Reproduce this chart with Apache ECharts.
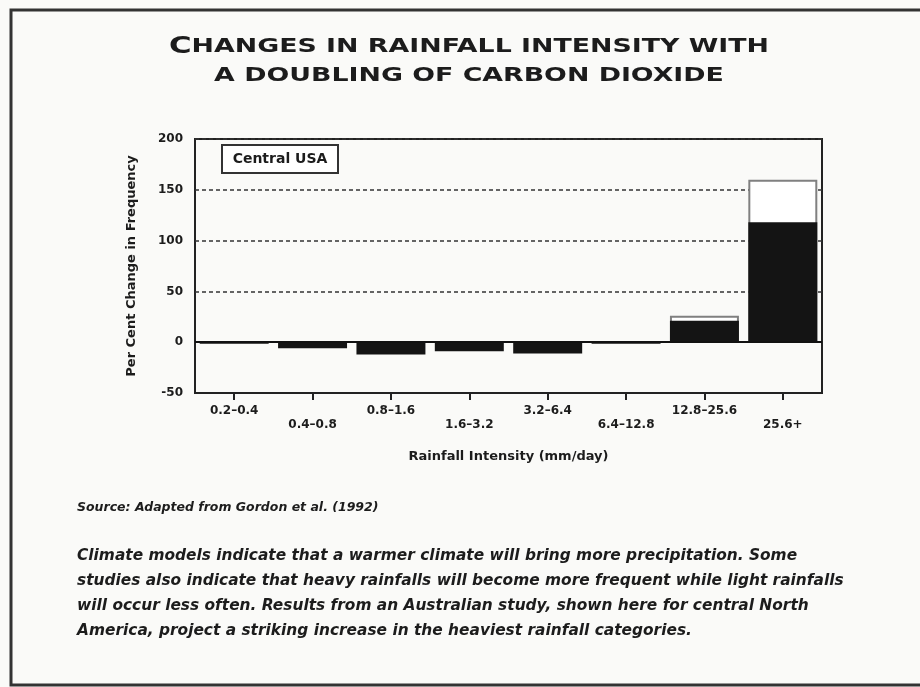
<!DOCTYPE html>
<html><head><meta charset="utf-8">
<script src="https://cdn.jsdelivr.net/npm/echarts@6/dist/echarts.min.js"></script>
<style>html,body{margin:0;padding:0;background:#fafaf8;}#c{width:920px;height:687px;}</style>
</head><body><div id="c"></div>
<script>
const categories = ['0.2–0.4','0.4–0.8','0.8–1.6','1.6–3.2','3.2–6.4','6.4–12.8','12.8–25.6','25.6+'];
const upperValues = [null, null, null, null, null, null, 26, 160];
const centralValues = [-1.5, -6, -12, -9, -11, -1.5, 21, 118];
const yTicks = { min: -50, max: 200, interval: 50 };
const titleLine1First = 'C';
const titleLine1Rest = 'HANGES IN RAINFALL INTENSITY WITH';
const titleLine2 = 'A DOUBLING OF CARBON DIOXIDE';
const legendLabel = 'Central USA';
const xName = 'Rainfall Intensity (mm/day)';
const yName = 'Per Cent Change in Frequency';
const sourceText = 'Source: Adapted from Gordon et al. (1992)';
const captionLines = [
  'Climate models indicate that a warmer climate will bring more precipitation. Some',
  'studies also indicate that heavy rainfalls will become more frequent while light rainfalls',
  'will occur less often. Results from an Australian study, shown here for central North',
  'America, project a striking increase in the heaviest rainfall categories.'
];

const ink = '#1c1c1c';
const F = '"DejaVu Sans", sans-serif';
const chart = echarts.init(document.getElementById('c'));
chart.setOption({
  backgroundColor: '#fafaf8',
  animation: false,
  title: [
    { text: sourceText, left: 77, top: 501, padding: 0,
      textStyle: { fontFamily: F, fontSize: 12.5, fontWeight: 'bold', fontStyle: 'italic', color: ink } },
    { text: captionLines.join('\n'), left: 77, top: 543, padding: 0,
      textStyle: { fontFamily: F, fontSize: 15.4, fontWeight: 'bold', fontStyle: 'italic', color: ink, lineHeight: 25 } }
  ],
  grid: { left: 195, right: 98, top: 139, bottom: 294, show: true, borderColor: '#222', borderWidth: 2, backgroundColor: 'transparent' },
  xAxis: {
    type: 'category', data: categories,
    axisLine: { show: true, onZero: false, lineStyle: { color: '#222', width: 2 } },
    axisTick: { show: true, alignWithLabel: true, interval: 0, inside: false, length: 7, lineStyle: { color: '#222', width: 2 } },
    axisLabel: {
      interval: 0, margin: 12, color: ink,
      formatter: (v, i) => (i % 2 ? '{lo|' + v + '}' : '{hi|' + v + '}'),
      rich: {
        hi: { fontFamily: F, fontSize: 12, fontWeight: 'bold', color: ink },
        lo: { fontFamily: F, fontSize: 12, fontWeight: 'bold', color: ink, padding: [14, 0, 0, 0] }
      }
    },
    name: xName, nameLocation: 'middle', nameGap: 57,
    nameTextStyle: { fontFamily: F, fontSize: 13, fontWeight: 'bold', color: ink }
  },
  yAxis: {
    type: 'value', min: yTicks.min, max: yTicks.max, interval: yTicks.interval,
    axisLine: { show: false }, axisTick: { show: false },
    axisLabel: { margin: 12, fontFamily: F, fontSize: 12, fontWeight: 'bold', color: ink },
    splitLine: { show: true, lineStyle: { color: '#333', width: 1.5, type: [4, 3] } },
    name: yName, nameLocation: 'middle', nameGap: 57, nameRotate: 90,
    nameTextStyle: { fontFamily: F, fontSize: 13, fontWeight: 'bold', color: ink }
  },
  series: [
    { name: 'upper', type: 'bar', data: upperValues, barGap: '-100%', barCategoryGap: '12%',
      itemStyle: { color: '#ffffff', borderColor: '#808080', borderWidth: 2 }, z: 2 },
    { name: legendLabel, type: 'bar', data: centralValues, barGap: '-100%', barCategoryGap: '12%',
      itemStyle: { color: '#141414' }, z: 3,
      markLine: { silent: true, symbol: 'none', label: { show: false },
        lineStyle: { color: '#111', width: 2, type: 'solid' }, data: [{ yAxis: 0 }] } }
  ],
  graphic: [
    { type: 'rect', shape: { x: 11, y: 10, width: 940, height: 675 }, style: { fill: 'none', stroke: '#333', lineWidth: 3 }, silent: true },
    { type: 'text', x: 469, y: 47, scaleX: 1.34, scaleY: 1,
      style: { text: '{a|' + titleLine1First + '}{b|' + titleLine1Rest + '}', align: 'center', verticalAlign: 'middle',
        rich: { a: { fontFamily: F, fontSize: 23, fontWeight: 'bold', fill: ink }, b: { fontFamily: F, fontSize: 20, fontWeight: 'bold', fill: ink } } } },
    { type: 'text', x: 469, y: 76, scaleX: 1.34, scaleY: 1,
      style: { text: titleLine2, align: 'center', verticalAlign: 'middle', font: 'bold 20px "DejaVu Sans", sans-serif', fill: ink } },
    { type: 'rect', shape: { x: 222, y: 145, width: 116, height: 28 }, style: { fill: '#fff', stroke: '#333', lineWidth: 2 }, z: 10 },
    { type: 'text', x: 280, y: 159, z: 11,
      style: { text: legendLabel, align: 'center', verticalAlign: 'middle', font: 'bold 14px "DejaVu Sans", sans-serif', fill: ink } }
  ]
});
</script></body></html>
